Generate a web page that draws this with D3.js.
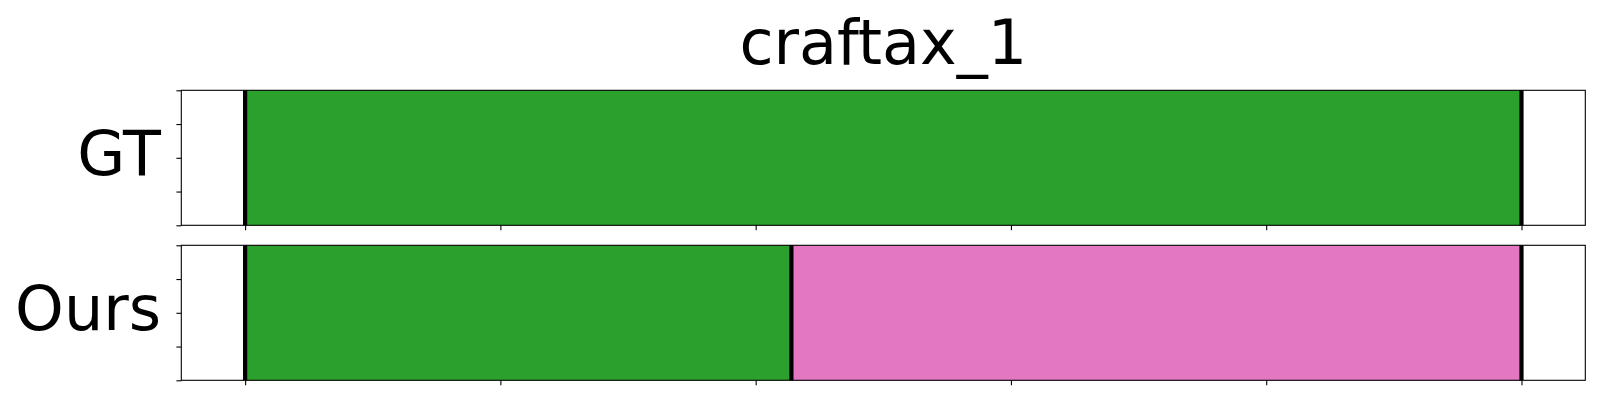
<!DOCTYPE html>
<html><head><meta charset="utf-8">
<script src="https://cdn.jsdelivr.net/npm/d3@7"></script>
<style>body{margin:0;background:#fff;} svg{display:block;}</style>
</head><body>
<svg id="chart" width="1600" height="400"></svg>
<script>
const title = "craftax_1";
const rowLabels = ["GT", "Ours"];
// segment boundaries (x units) per row and the class of each segment
const gtBounds = [0, 100];
const gtClasses = ["green"];
const oursBounds = [0, 42.8, 100];
const oursClasses = ["green", "pink"];
const xTicks = [0, 20, 40, 60, 80, 100];
const yTicks = [0, 0.25, 0.5, 0.75, 1];
const classColors = {green: "#2ca02c", pink: "#e377c2"};

const rows = [
  {label: rowLabels[0], bounds: gtBounds, classes: gtClasses},
  {label: rowLabels[1], bounds: oursBounds, classes: oursClasses}
];

const svg = d3.select("#chart");
const left = 181.3, right = 1585.3;
const panelTops = [90.3, 245.3], panelH = 135;
const font = "'DejaVu Sans', sans-serif";

// 5% margins like matplotlib
const span = 100, pad = span * 0.05;
const x = d3.scaleLinear().domain([0 - pad, 100 + pad]).range([left, right]);

rows.forEach((row, i) => {
  const top = panelTops[i];
  const y = d3.scaleLinear().domain([0, 1]).range([top + panelH, top]);
  const g = svg.append("g");
  const segs = row.classes.map((c, k) => ({x0: row.bounds[k], x1: row.bounds[k + 1], c}));
  g.selectAll("rect.seg").data(segs).join("rect")
    .attr("x", d => x(d.x0)).attr("width", d => x(d.x1) - x(d.x0))
    .attr("y", y(1)).attr("height", y(0) - y(1))
    .attr("fill", d => classColors[d.c]);
  g.selectAll("line.b").data(row.bounds).join("line")
    .attr("x1", d => x(d)).attr("x2", d => x(d))
    .attr("y1", y(0)).attr("y2", y(1))
    .attr("stroke", "#000").attr("stroke-width", 4.2);
  // axes
  const xa = g.append("g").attr("transform", `translate(0,${top + panelH})`)
    .call(d3.axisBottom(x).tickValues(xTicks).tickSize(4.9).tickFormat(""));
  const ya = g.append("g").attr("transform", `translate(${left},0)`)
    .call(d3.axisLeft(y).tickValues(yTicks).tickSize(4.9).tickFormat(""));
  [xa, ya].forEach(a => {
    a.select(".domain").remove();
    a.selectAll("line").attr("stroke", "#000").attr("stroke-width", 1.1);
  });
  g.append("rect").attr("x", left).attr("y", top).attr("width", right - left).attr("height", panelH)
    .attr("fill", "none").attr("stroke", "#000").attr("stroke-width", 1.1);
  g.append("text").attr("x", 161).attr("y", top + panelH / 2 + 17)
    .attr("text-anchor", "end").attr("font-family", font).attr("font-size", 62)
    .attr("fill", "#000").text(row.label);
});

svg.append("text").attr("x", (left + right) / 2).attr("y", 63.5)
  .attr("text-anchor", "middle").attr("font-family", font).attr("font-size", 62)
  .attr("fill", "#000").text(title);
</script>
</body></html>
